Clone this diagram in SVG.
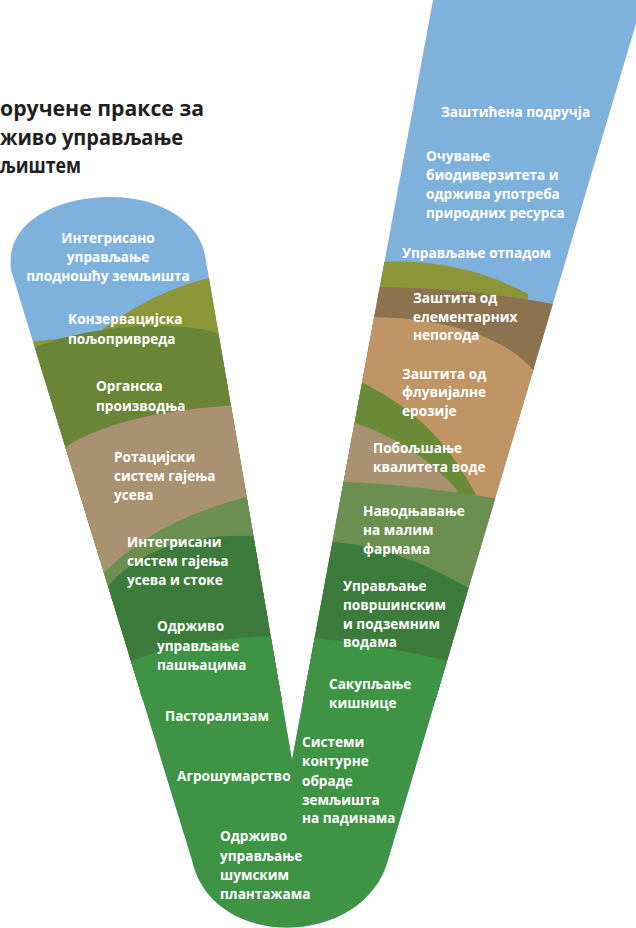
<svg xmlns="http://www.w3.org/2000/svg" width="636" height="928" viewBox="0 0 636 928">
<style>
.t{font-family:"Open Sans","Liberation Sans",sans-serif;font-weight:700;font-size:13.6px;fill:#ffffff}
.c{text-anchor:middle}
.h{font-family:"Open Sans","Liberation Sans",sans-serif;font-weight:700;font-size:21.5px;fill:#231f20}
</style>
<defs>
<clipPath id="v">
<path d="M 11,270 C 5,220 60,197 110,197 C 165,197 200,225 205,255 L 292,760 L 433,0 L 643,0 L 388,860 C 364,948 212,952 192,860 Z"/>
</clipPath>
</defs>
<g id="title">
<text class="h" x="0" y="116" textLength="204" lengthAdjust="spacingAndGlyphs">оручене праксе за</text>
<text class="h" x="0" y="145" textLength="183" lengthAdjust="spacingAndGlyphs">живо управљање</text>
<text class="h" x="0" y="173" textLength="81" lengthAdjust="spacingAndGlyphs">љиштем</text>
</g>
<g id="bands" clip-path="url(#v)">
<rect x="0" y="0" width="636" height="928" fill="#7fb1dd"/>
<!-- left arm -->
<path fill="#8a9638" d="M 0,345 L 95,335 Q 150,292 212,277 L 300,270 L 300,700 L 0,700 Z"/>
<path fill="#6a8537" d="M 0,360 L 33,348 C 70,332 130,324 170,326 C 195,327 210,330 225,336 L 300,336 L 300,700 L 0,700 Z"/>
<path fill="#a99271" d="M 0,470 L 61,450 Q 115,412 240,405 L 300,405 L 300,700 L 0,700 Z"/>
<path fill="#6a8f50" d="M 0,600 L 100,577 Q 150,522 250,496 L 300,496 L 300,700 L 0,700 Z"/>
<path fill="#3d7b3d" d="M 0,610 L 105,590 Q 150,532 255,536 L 300,536 L 300,700 L 0,700 Z"/>
<path fill="#3e9345" d="M 0,680 L 128,663 Q 175,640 272,636 L 300,636 L 300,700 L 0,700 Z"/>
<!-- right arm -->
<path fill="#8a9638" d="M 300,262 L 382,262 Q 460,258 528,294 L 528,330 L 300,330 Z"/>
<path fill="#8c7350" d="M 300,287 L 380,287 Q 470,288 553,304 L 640,320 L 640,420 L 300,420 Z"/>
<path fill="#bf9566" d="M 300,317 L 373,317 C 430,318 500,330 535,372 L 640,400 L 640,560 L 300,560 Z"/>
<path fill="#6a8a38" d="M 300,383 L 363,383 C 423,413 450,448 475,493 L 485,530 L 300,530 Z"/>
<path fill="#a99271" d="M 300,423 L 355,423 C 400,438 437,466 457,490 L 465,530 L 300,530 Z"/>
<path fill="#6a8f50" d="M 300,482 L 345,482 Q 406,484 500,499 L 640,510 L 640,700 L 300,700 Z"/>
<path fill="#3d7b3d" d="M 300,542 L 333,542 C 380,545 430,565 470,589 L 640,600 L 640,700 L 300,700 Z"/>
<path fill="#3e9345" d="M 300,638 L 315,638 Q 380,645 450,661 L 640,670 L 640,700 L 300,700 Z"/>
<rect x="0" y="690" width="636" height="238" fill="#3e9345"/>
</g>
<g id="labels-left">
<g id="n1"><text class="t c" x="108" y="243">Интегрисано</text><text class="t c" x="108" y="262">управљање</text><text class="t c" x="108" y="281">плодношћу земљишта</text></g>
<g id="n2"><text class="t" x="68" y="324">Конзервацијска</text><text class="t" x="68" y="344">пољопривреда</text></g>
<g id="n3"><text class="t" x="96" y="391">Органска</text><text class="t" x="96" y="411">производња</text></g>
<g id="n4"><text class="t" x="114" y="462">Ротацијски</text><text class="t" x="114" y="481">систем гајења</text><text class="t" x="114" y="500">усева</text></g>
<g id="n5"><text class="t" x="127" y="547">Интегрисани</text><text class="t" x="127" y="566">систем гајења</text><text class="t" x="127" y="585">усева и стоке</text></g>
<g id="n6"><text class="t" x="157" y="631">Одрживо</text><text class="t" x="157" y="651">управљање</text><text class="t" x="157" y="670">пашњацима</text></g>
<g id="n7"><text class="t" x="165" y="721">Пасторализам</text></g>
<g id="n8"><text class="t" x="177" y="781">Агрошумарство</text></g>
<g id="n9"><text class="t" x="220" y="841">Одрживо</text><text class="t" x="220" y="861">управљање</text><text class="t" x="220" y="880">шумским</text><text class="t" x="220" y="899">плантажама</text></g>
</g>
<g id="labels-right">
<g id="r1"><text class="t" x="441" y="117">Заштићена подручја</text></g>
<g id="r2"><text class="t" x="426" y="161">Очување</text><text class="t" x="426" y="180">биодиверзитета и</text><text class="t" x="426" y="199">одржива употреба</text><text class="t" x="426" y="218">природних ресурса</text></g>
<g id="r3"><text class="t" x="402" y="258">Управљање отпадом</text></g>
<g id="r4"><text class="t" x="413" y="303">Заштита од</text><text class="t" x="413" y="322">елементарних</text><text class="t" x="413" y="340">непогода</text></g>
<g id="r5"><text class="t" x="402" y="379">Заштита од</text><text class="t" x="402" y="397">флувијалне</text><text class="t" x="402" y="416">ерозије</text></g>
<g id="r6"><text class="t" x="373" y="453">Побољшање</text><text class="t" x="373" y="472">квалитета воде</text></g>
<g id="r7"><text class="t" x="363" y="516">Наводњавање</text><text class="t" x="363" y="535">на малим</text><text class="t" x="363" y="554">фармама</text></g>
<g id="r8"><text class="t" x="343" y="591">Управљање</text><text class="t" x="343" y="610">површинским</text><text class="t" x="343" y="629">и подземним</text><text class="t" x="343" y="647">водама</text></g>
<g id="r9"><text class="t" x="329" y="689">Сакупљање</text><text class="t" x="329" y="708">кишнице</text></g>
<g id="r10"><text class="t" x="302" y="747">Системи</text><text class="t" x="302" y="766">контурне</text><text class="t" x="302" y="786">обраде</text><text class="t" x="302" y="805">земљишта</text><text class="t" x="302" y="823">на падинама</text></g>
</g>
</svg>
